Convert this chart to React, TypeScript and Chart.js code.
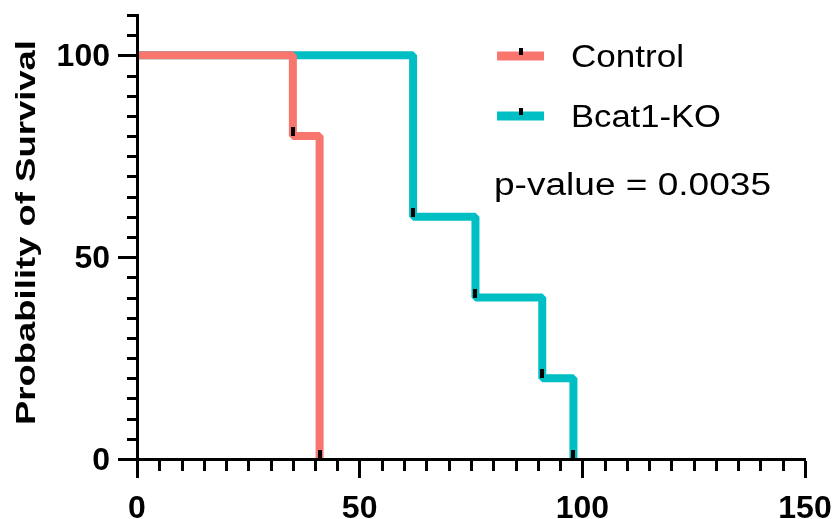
import React, { useEffect, useRef } from "react";
import { Chart, registerables } from "chart.js";

Chart.register(...registerables);

// ---- data ----
const seriesNames = ["Control", "Bcat1-KO"];
const controlTimes = [0, 35, 41];
const controlSurvival = [100, 80, 0];
const koTimes = [0, 62, 76, 91, 98];
const koSurvival = [100, 60, 40, 20, 0];
const xTickValues = [0, 50, 100, 150];
const yTickValues = [0, 50, 100];
const xMinorStep = 5;
const yMinorStep = 5;
const xMax = 150;
const yMax = 110;
const pValueText = "p-value = 0.0035";
const yAxisTitle = "Probability of Survival";
const seriesColors = ["#F8766D", "#00BFC4"];

const FAMILY = "'Liberation Sans', Arial, Helvetica, sans-serif";

function drawStretched(
  ctx: CanvasRenderingContext2D,
  text: string,
  x: number,
  y: number,
  font: string,
  width: number
) {
  ctx.save();
  ctx.font = font;
  ctx.textAlign = "left";
  ctx.textBaseline = "alphabetic";
  const w = ctx.measureText(text).width;
  ctx.translate(x, y);
  ctx.scale(width / w, 1);
  ctx.fillStyle = "#000";
  ctx.fillText(text, 0, 0);
  ctx.restore();
}

// censor-style markers drawn at each point the library has placed (except the first)
const markerPlugin = {
  id: "markers",
  afterDatasetsDraw(chart: any) {
    const ctx: CanvasRenderingContext2D = chart.ctx;
    ctx.save();
    ctx.fillStyle = "#000";
    chart.data.datasets.forEach((_: any, di: number) => {
      const meta = chart.getDatasetMeta(di);
      meta.data.forEach((pt: any, i: number) => {
        if (i === 0) return;
        const x = Math.round(pt.x);
        const y = Math.round(pt.y);
        ctx.fillRect(x - 2, y - 9, 4, 9);
      });
    });
    ctx.restore();
  },
};

const decorPlugin = {
  id: "decor",
  afterDraw(chart: any) {
    const ctx: CanvasRenderingContext2D = chart.ctx;
    const xs = chart.scales.x;
    const ys = chart.scales.y;
    const area = chart.chartArea;
    ctx.save();
    ctx.strokeStyle = "#000";
    ctx.lineWidth = 3;
    ctx.lineCap = "butt";
    // minor ticks x
    for (let v = xMinorStep; v < xMax; v += xMinorStep) {
      if (xTickValues.includes(v)) continue;
      const px = Math.round(xs.getPixelForValue(v)) + 0.5;
      ctx.beginPath();
      ctx.moveTo(px, area.bottom);
      ctx.lineTo(px, area.bottom + 12);
      ctx.stroke();
    }
    // minor ticks y
    for (let v = yMinorStep; v <= yMax; v += yMinorStep) {
      if (yTickValues.includes(v)) continue;
      const py = Math.round(ys.getPixelForValue(v)) + 0.5;
      ctx.beginPath();
      ctx.moveTo(area.left, py);
      ctx.lineTo(area.left - 10, py);
      ctx.stroke();
    }
    ctx.restore();

    // y axis title (rotated)
    ctx.save();
    ctx.translate(35, 232.5);
    ctx.rotate(-Math.PI / 2);
    ctx.font = `bold 28px ${FAMILY}`;
    const tw = ctx.measureText(yAxisTitle).width;
    const target = 385;
    ctx.scale(target / tw, 1);
    ctx.fillStyle = "#000";
    ctx.textAlign = "center";
    ctx.textBaseline = "alphabetic";
    ctx.fillText(yAxisTitle, 0, 0);
    ctx.restore();

    // legend
    const legendRows = [56, 116];
    const legendWidths = [113, 150];
    seriesNames.forEach((name, i) => {
      const cy = legendRows[i];
      ctx.save();
      ctx.strokeStyle = seriesColors[i];
      ctx.lineWidth = 9;
      ctx.lineCap = "butt";
      ctx.beginPath();
      ctx.moveTo(497, cy);
      ctx.lineTo(544, cy);
      ctx.stroke();
      ctx.fillStyle = "#000";
      ctx.fillRect(519, cy - 8, 4, 7);
      ctx.restore();
      drawStretched(ctx, name, 571, cy + 11, `31px ${FAMILY}`, legendWidths[i]);
    });
    drawStretched(ctx, pValueText, 494, 195, `31px ${FAMILY}`, 277);
  },
};

export default function App() {
  const ref = useRef<HTMLCanvasElement>(null);

  useEffect(() => {
    const tickFont = { family: FAMILY, size: 32, weight: "bold" as const };
    const chart = new Chart(ref.current!, {
      type: "line",
      data: {
        datasets: [
          {
            label: seriesNames[0],
            data: controlTimes.map((t, i) => ({ x: t, y: controlSurvival[i] })),
            borderColor: seriesColors[0],
            backgroundColor: seriesColors[0],
            borderWidth: 8,
            stepped: "before",
            fill: false,
            pointRadius: 0,
            borderJoinStyle: "bevel",
            borderCapStyle: "butt",
          },
          {
            label: seriesNames[1],
            data: koTimes.map((t, i) => ({ x: t, y: koSurvival[i] })),
            borderColor: seriesColors[1],
            backgroundColor: seriesColors[1],
            borderWidth: 8,
            stepped: "before",
            fill: false,
            pointRadius: 0,
            borderJoinStyle: "bevel",
            borderCapStyle: "butt",
          },
        ],
      },
      options: {
        responsive: false,
        animation: false,
        events: [],
        devicePixelRatio: 1,
        layout: { padding: { left: 0, top: 15, right: 28, bottom: 0 } },
        plugins: {
          legend: { display: false },
          tooltip: { enabled: false },
          title: { display: false },
        },
        scales: {
          x: {
            type: "linear",
            min: 0,
            max: xMax,
            afterBuildTicks: (s: any) => {
              s.ticks = xTickValues.map((v) => ({ value: v }));
            },
            afterFit: (s: any) => {
              s.height = 60;
              s.paddingLeft = 0;
              s.paddingRight = 0;
            },
            ticks: {
              font: tickFont,
              color: "#000",
              padding: 12,
              maxRotation: 0,
              autoSkip: false,
            },
            grid: {
              drawOnChartArea: false,
              drawTicks: true,
              tickLength: 19,
              tickWidth: 3,
              tickColor: "#000",
              z: 1,
            },
            border: { display: true, color: "#000", width: 3, z: 1 },
          },
          y: {
            type: "linear",
            min: 0,
            max: yMax,
            afterBuildTicks: (s: any) => {
              s.ticks = yTickValues.map((v) => ({ value: v }));
            },
            afterFit: (s: any) => {
              s.width = 137;
              s.paddingTop = 0;
              s.paddingBottom = 0;
            },
            ticks: {
              font: tickFont,
              color: "#000",
              padding: 8,
              labelOffset: 2,
              autoSkip: false,
            },
            grid: {
              drawOnChartArea: false,
              drawTicks: true,
              tickLength: 19,
              tickWidth: 3,
              tickColor: "#000",
              z: 1,
            },
            border: { display: true, color: "#000", width: 3, z: 1 },
          },
        },
      },
      plugins: [markerPlugin, decorPlugin],
    } as any);
    return () => chart.destroy();
  }, []);

  return (
    <div
      style={{
        position: "fixed",
        left: 0,
        top: 0,
        width: 833,
        height: 519,
        background: "#fff",
      }}
    >
      <canvas
        ref={ref}
        width={833}
        height={519}
        style={{ display: "block", width: 833, height: 519 }}
      />
    </div>
  );
}
